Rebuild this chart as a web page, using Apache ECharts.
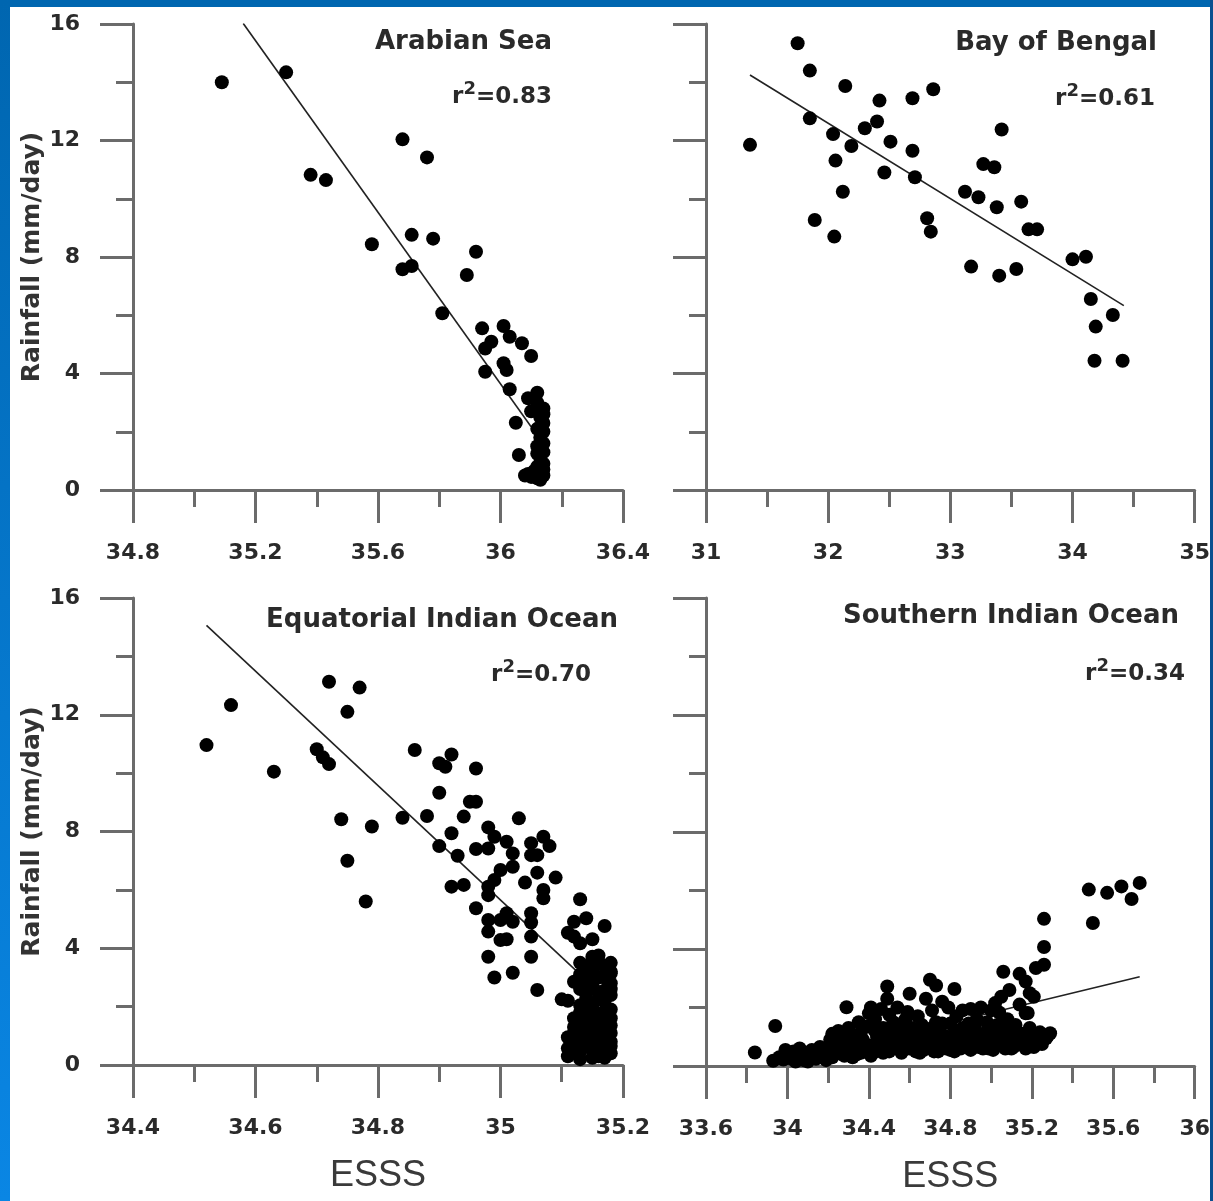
<!DOCTYPE html>
<html><head><meta charset="utf-8">
<script src="https://cdn.jsdelivr.net/npm/echarts@6/dist/echarts.min.js"></script>
<style>
html,body{margin:0;padding:0;background:#fff;overflow:hidden;}
#chart{position:absolute;left:0;top:0;width:1213px;height:1201px;}
.bar{position:absolute;z-index:5;}
</style></head><body>
<div id="chart"></div>
<div class="bar" style="left:0;top:0;width:1213px;height:7px;background:#0066b0"></div>
<div class="bar" style="left:0;top:0;width:10px;height:1201px;background:linear-gradient(#0066b0,#0a86e4)"></div>
<div class="bar" style="left:1210px;top:0;width:3px;height:1201px;background:#0a4f8f"></div>
<script>
// ---- Data ----
const panelTitles = ['Arabian Sea', 'Bay of Bengal', 'Equatorial Indian Ocean', 'Southern Indian Ocean'];
const r2Values = ['0.83', '0.61', '0.70', '0.34'];
const yAxisName = 'Rainfall (mm/day)';
const xAxisName = 'ESSS';

const arabianSea = [
 [35.09,14.0],[35.30,14.34],[35.68,12.04],[35.76,11.42],[35.38,10.82],[35.43,10.64],[35.58,8.44],[35.71,8.76],
 [35.78,8.63],[35.92,8.18],[35.68,7.58],[35.71,7.69],[35.89,7.38],[35.81,6.07],[35.94,5.55],[36.01,5.63],
 [36.03,5.26],[35.97,5.09],[35.95,4.86],[36.07,5.04],[36.10,4.60],[36.01,4.35],[36.02,4.12],[35.95,4.06],
 [36.03,3.46],[36.12,3.34],[36.09,3.15],[36.05,2.31],[36.06,1.20],
 [36.12,3.0],[36.14,2.8],[36.10,2.7],[36.13,2.5],[36.14,2.3],[36.12,2.1],[36.14,2.0],[36.13,1.8],[36.14,1.6],
 [36.12,1.5],[36.14,1.3],[36.13,1.1],[36.14,0.9],[36.12,0.8],[36.08,0.5],[36.10,0.45],[36.12,0.4],[36.14,0.5],
 [36.11,0.65],[36.14,0.7],[36.09,0.55],[36.13,0.35],[36.14,2.6],[36.12,1.25]
];
const bayOfBengal = [
 [31.75,15.34],[31.85,14.40],[32.14,13.87],[32.42,13.37],[32.69,13.45],[32.86,13.76],[31.85,12.76],[32.40,12.65],
 [32.30,12.42],[32.04,12.22],[32.19,11.81],[32.51,11.96],[32.69,11.65],[31.36,11.85],[33.42,12.38],[32.06,11.31],
 [32.46,10.90],[32.71,10.74],[33.27,11.19],[33.36,11.08],[32.12,10.24],[33.12,10.24],[33.23,10.05],[33.38,9.71],
 [33.58,9.90],[31.89,9.27],[32.81,9.33],[32.05,8.70],[32.84,8.87],[33.64,8.95],[33.71,8.95],[34.00,7.92],
 [34.11,8.01],[33.17,7.67],[33.40,7.36],[33.54,7.59],[34.15,6.56],[34.33,6.01],[34.19,5.61],[34.18,4.44],[34.41,4.44]
];
const equatorialIO = [
 [34.52,10.96],[34.56,12.33],[34.63,10.05],[34.72,13.13],[34.77,12.93],[34.75,12.10],[34.70,10.82],[34.71,10.54],
 [34.72,10.31],[34.74,8.42],[34.79,8.17],[34.75,7.00],[34.78,5.60],[34.86,10.79],[34.92,10.64],[34.90,10.34],
 [34.91,10.22],[34.96,10.16],[34.90,9.33],[34.95,9.02],[34.96,9.02],[34.84,8.47],[34.88,8.53],[34.94,8.51],
 [34.92,7.94],[34.90,7.50],[34.93,7.17],[34.96,7.40],[35.03,8.45],[34.98,8.14],[34.99,7.82],[34.98,7.42],
 [35.01,7.65],[35.02,7.25],[35.05,7.60],[35.07,7.82],[35.08,7.50],[35.05,7.19],[35.06,7.19],[35.00,6.68],
 [35.02,6.79],[34.99,6.34],[35.06,6.59],[35.09,6.42],[35.04,6.25],[34.92,6.11],[34.94,6.17],[34.98,6.11],
 [34.98,5.82],[35.07,6.00],[35.07,5.71],[34.96,5.37],[35.13,5.68],[34.98,4.97],[35.00,4.97],[35.01,5.20],
 [35.02,4.91],[35.05,5.20],[35.05,4.88],[34.98,4.57],[35.00,4.28],[35.01,4.31],[35.05,4.40],[35.12,4.91],
 [35.14,5.03],[35.17,4.76],[35.11,4.53],[35.12,4.40],[35.13,4.17],[35.15,4.31],[34.98,3.71],[35.05,3.71],
 [35.15,3.71],[35.16,3.54],[35.17,3.37],[34.99,3.00],[35.02,3.16],[35.06,2.57],[35.10,2.25],[35.14,2.68],
 [35.15,3.25],[35.18,3.14],
 [35.13,3.5],[35.15,3.6],[35.17,3.4],[35.18,3.2],[35.16,3.0],[35.14,2.9],[35.18,2.8],[35.13,2.6],[35.16,2.5],
 [35.18,2.4],[35.14,2.3],[35.17,2.2],[35.15,2.0],[35.18,1.9],[35.13,1.8],[35.16,1.7],[35.18,1.6],[35.14,1.5],
 [35.17,1.4],[35.12,1.3],[35.15,1.2],[35.18,1.1],[35.13,1.0],[35.16,0.9],[35.18,0.8],[35.14,0.7],[35.17,0.6],
 [35.15,0.5],[35.18,0.4],[35.16,0.3],[35.11,0.57],[35.12,0.51],[35.13,0.45],[35.17,0.25],[35.12,1.1],[35.14,1.95],
 [35.15,2.7],[35.17,3.0],[35.18,3.5],[35.16,1.35],[35.13,2.05],[35.18,2.6],[35.15,0.85],[35.17,1.05],[35.14,1.15],
 [35.16,2.25],[35.12,1.6],[35.11,0.95],[35.18,0.65],[35.15,3.3],
 [35.11,0.3],[35.12,0.75],[35.13,1.4],[35.14,2.45],[35.15,1.6],[35.16,0.6],[35.17,1.85],[35.18,1.35],[35.13,3.1],
 [35.14,3.35],[35.16,3.75],[35.12,2.85],[35.11,2.2],[35.13,0.2],[35.15,0.25],[35.17,2.55]
];
const southernIO = [
 [33.84,0.46],[33.94,1.37],[33.93,0.18],[33.96,0.3],[33.98,0.22],[34.0,0.4],[34.02,0.25],[33.99,0.55],[34.03,0.5],
 [34.05,0.32],[34.06,0.6],[34.08,0.2],[34.09,0.45],[34.11,0.3],[34.12,0.55],[34.14,0.25],[34.15,0.4],[34.17,0.5],
 [34.18,0.3],[34.19,0.2],[34.2,0.62],
 [34.21,0.9],[34.22,1.1],[34.23,0.45],[34.24,0.75],[34.25,1.2],[34.26,0.5],[34.27,0.95],[34.28,0.35],[34.29,2.01],
 [34.29,0.7],[34.3,1.3],[34.31,0.55],[34.32,1.05],[34.33,0.8],[34.34,0.4],[34.35,1.5],[34.35,0.65],[34.36,1.15],
 [34.37,0.9],[34.38,0.5],[34.39,1.35],[34.4,0.7],[34.4,1.8],[34.41,2.0],[34.42,0.45],[34.43,1.6],[34.44,1.0],
 [34.45,0.6],[34.46,1.95],
 [34.47,1.3],[34.48,0.8],[34.49,2.72],[34.49,2.3],[34.5,1.75],[34.5,0.5],[34.51,1.1],[34.52,1.5],[34.53,0.7],
 [34.54,2.0],[34.55,1.25],[34.56,0.45],[34.57,0.9],[34.58,1.6],[34.59,1.85],[34.6,2.47],[34.6,0.6],[34.61,1.3],
 [34.62,1.0],[34.63,0.5],[34.64,1.7],
 [34.65,0.8],[34.66,1.4],[34.67,0.55],[34.68,2.3],[34.69,1.1],[34.7,2.95],[34.7,0.65],[34.71,1.9],[34.72,0.9],
 [34.73,2.75],[34.73,1.5],[34.74,0.5],[34.75,1.2],[34.76,2.2],[34.77,0.75],[34.78,1.0],[34.79,2.0],[34.8,0.55],
 [34.8,1.45],
 [34.82,2.63],[34.82,0.85],[34.83,1.7],[34.84,1.2],[34.85,0.6],[34.86,1.9],[34.87,1.0],[34.88,0.7],[34.89,1.45],
 [34.9,1.95],[34.9,0.55],[34.91,1.15],[34.92,0.8],[34.93,1.6],[34.94,0.65],[34.95,2.0],[34.96,1.05],[34.97,0.75],
 [34.98,1.5],[34.99,0.6],[35.0,1.9],[35.0,1.15],
 [35.02,2.15],[35.02,0.7],[35.03,1.4],[35.04,1.83],[35.05,2.37],[35.05,0.95],[35.06,3.22],[35.07,0.6],[35.07,1.2],
 [35.08,1.6],[35.09,2.6],[35.09,0.8],[35.1,1.05],[35.11,0.65],[35.12,1.4],[35.13,0.9],[35.14,3.15],[35.14,2.1],
 [35.15,1.1],[35.16,0.7],[35.17,2.89],[35.17,1.8],[35.18,1.81],[35.18,0.85],[35.19,2.49],[35.19,1.3],[35.2,0.75],
 [35.21,2.37],[35.21,1.0],[35.22,3.35],[35.23,0.8],[35.24,1.15],[35.25,0.9],[35.26,3.46],[35.26,4.07],[35.26,5.03],
 [35.29,1.12],[35.27,0.95],
 [34.22,0.3],[34.25,0.6],[34.27,0.4],[34.3,0.85],[34.32,0.3],[34.34,1.0],[34.36,0.45],[34.38,0.75],[34.41,0.35],
 [34.43,1.2],[34.45,0.9],[34.47,0.45],[34.49,1.05],[34.51,0.75],[34.53,1.35],[34.55,0.85],[34.57,0.55],[34.59,1.15],
 [34.61,0.75],[34.63,1.25],[34.65,0.45],[34.67,1.05],[34.69,0.7],[34.71,1.3],[34.72,0.5],[34.74,0.85],[34.76,1.45],
 [34.78,0.6],[34.8,1.0],[34.82,0.5],[34.84,0.75],[34.86,1.3],[34.88,0.95],[34.9,0.8],[34.92,1.35],[34.94,0.95],
 [34.96,0.6],[34.98,1.2],[35.0,0.8],[35.01,0.55],[35.03,1.05],[35.05,0.7],[35.06,1.45],[35.08,0.9],[35.1,0.6],
 [35.11,1.25],[35.13,0.75],[35.15,0.95],[35.17,0.6],[35.19,1.0],[35.21,0.65],[35.23,1.05],[35.25,0.75],[35.28,1.05],
 [34.16,0.65],[34.1,0.15],[34.04,0.15],
 [35.48,6.03],[35.57,5.92],[35.64,6.14],[35.69,5.71],[35.73,6.26],[35.50,4.89]
];
// regression line end points
const fitArabian = [[35.16,16.02],[36.10,2.17]];
const fitBengal = [[31.36,14.25],[34.42,6.33]];
const fitEquatorial = [[34.52,15.06],[35.14,2.91]];
const fitSouthern = [[33.95,0.05],[35.73,3.05]];

// axis ranges [min, max, interval]
const xRanges = [[34.8,36.4,0.4],[31,35,1],[34.4,35.2,0.2],[33.6,36,0.4]];
const yRange = [0,16,4];

const scatterData = [arabianSea, bayOfBengal, equatorialIO, southernIO];
const fitData = [fitArabian, fitBengal, fitEquatorial, fitSouthern];

// ---- Layout / style ----
const FONT = 'DejaVu Sans';
const AX = '#6b6b6b';
const grids = [
 {left:133, top:24, width:490, height:466},
 {left:706, top:24, width:490, height:466},
 {left:133, top:598, width:490, height:467},
 {left:706, top:598, width:491, height:468}
];
const titlePos = [
 {nameRight:552, nameTop:27, r2Right:552, r2Top:80},
 {nameRight:1157, nameTop:28, r2Right:1155, r2Top:82},
 {nameRight:618, nameTop:605, r2Right:591, r2Top:658},
 {nameRight:1179, nameTop:601, r2Right:1185, r2Top:657}
];

const tickStyle = {color: AX, width: 3};
const xAxes = xRanges.map((r, i) => ({
  gridIndex: i, type: 'value', min: r[0], max: r[1], interval: r[2],
  axisLine: {show: true, onZero: false, lineStyle: {color: AX, width: 3}},
  axisTick: {show: true, length: 33, lineStyle: tickStyle},
  minorTick: {show: true, splitNumber: 2, length: 17, lineStyle: tickStyle},
  splitLine: {show: false},
  axisLabel: {margin: 52, fontFamily: FONT, fontWeight: 'bold', fontSize: 22, color: '#2a2a2a'},
  name: i >= 2 ? xAxisName : '', nameLocation: 'middle', nameGap: 93,
  nameTextStyle: {fontFamily: 'Liberation Sans', fontSize: 36, color: '#3a3a3a'}
}));
const yAxes = [0,1,2,3].map(i => ({
  gridIndex: i, type: 'value', min: yRange[0], max: yRange[1], interval: yRange[2],
  axisLine: {show: true, onZero: false, lineStyle: {color: AX, width: 3}},
  axisTick: {show: true, length: 33, lineStyle: tickStyle},
  minorTick: {show: true, splitNumber: 2, length: 17, lineStyle: tickStyle},
  splitLine: {show: false},
  axisLabel: {show: i % 2 === 0, margin: 53, fontFamily: FONT, fontWeight: 'bold', fontSize: 22, color: '#2a2a2a'},
  name: i % 2 === 0 ? yAxisName : '', nameLocation: 'middle', nameGap: 83,
  nameTextStyle: {fontFamily: FONT, fontWeight: 'bold', fontSize: 25, color: '#333'}
}));

const titles = [];
panelTitles.forEach((t, i) => {
  const p = titlePos[i];
  titles.push({
    text: t, right: 1213 - p.nameRight, top: p.nameTop, padding: 0,
    textStyle: {fontFamily: FONT, fontWeight: 'bold', fontSize: 26, lineHeight: 30, color: '#2a2a2a'}
  });
  titles.push({
    text: 'r{s|2}=' + r2Values[i], right: 1213 - p.r2Right, top: p.r2Top, padding: 0,
    textStyle: {fontFamily: FONT, fontWeight: 'bold', fontSize: 23, lineHeight: 34, color: '#2a2a2a',
      rich: {s: {fontFamily: FONT, fontWeight: 'bold', fontSize: 18, lineHeight: 22, verticalAlign: 'top', color: '#2a2a2a'}}}
  });
});

const series = [];
fitData.forEach((d, i) => {
  series.push({type: 'line', xAxisIndex: i, yAxisIndex: i, data: d, showSymbol: false, symbol: 'none',
    lineStyle: {color: '#222', width: 1.6}, z: 1, silent: true});
});
scatterData.forEach((d, i) => {
  series.push({type: 'scatter', xAxisIndex: i, yAxisIndex: i, data: d, symbol: 'circle', symbolSize: 14,
    itemStyle: {color: '#000', opacity: 1}, z: 2});
});

const chart = echarts.init(document.getElementById('chart'), null, {renderer: 'canvas'});
chart.setOption({
  animation: false,
  backgroundColor: '#fff',
  title: titles,
  grid: grids,
  xAxis: xAxes,
  yAxis: yAxes,
  series: series
});
</script>
</body></html>
